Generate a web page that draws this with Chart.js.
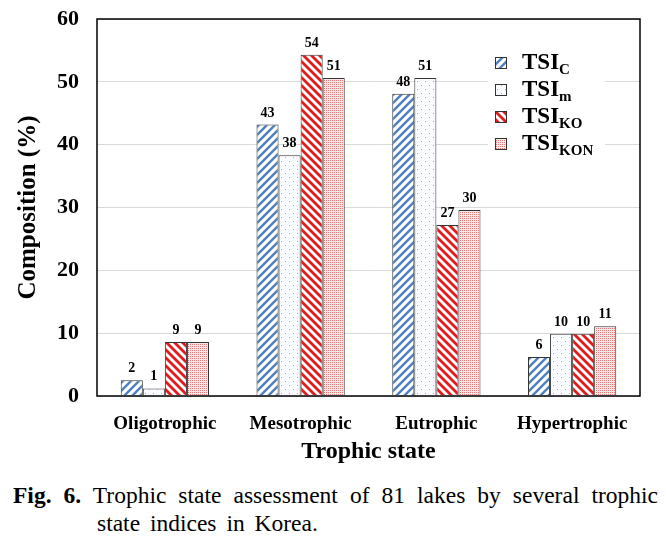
<!DOCTYPE html>
<html>
<head>
<meta charset="utf-8">
<script src="https://cdn.jsdelivr.net/npm/chart.js@4"></script>
<style>
  html, body { margin: 0; padding: 0; background: #fff; }
  #wrap { position: relative; width: 666px; height: 544px; overflow: hidden; }
  #chart { position: absolute; left: 0; top: 0; }
  .cap {
    position: absolute;
    font-family: "Liberation Serif", "Times New Roman", serif;
    font-size: 23.5px; line-height: 28px; color: #000; white-space: nowrap;
  }
  #cap1 { left: 13px; top: 481px; width: 645px; text-align: justify; text-align-last: justify; white-space: normal; }
  #cap2 { left: 97px; top: 509px; word-spacing: 4px; }
</style>
</head>
<body>
<div id="wrap">
  <canvas id="chart" width="666" height="470"></canvas>
  <div class="cap" id="cap1"><b>Fig. 6.</b> Trophic state assessment of 81 lakes by several trophic</div>
  <div class="cap" id="cap2">state indices in Korea.</div>
</div>
<script>
// ---- data ----
const categories = ["Oligotrophic", "Mesotrophic", "Eutrophic", "Hypertrophic"];
const seriesNames = ["TSI", "TSI", "TSI", "TSI"];
const seriesSubs = ["C", "m", "KO", "KON"];
const tsiC   = [2.5, 43.2, 48.1, 6.2];
const tsiM   = [1.2, 38.3, 50.6, 9.9];
const tsiKO  = [8.6, 54.3, 27.2, 9.9];
const tsiKON = [8.6, 50.6, 29.6, 11.1];
const labelsC   = ["2", "43", "48", "6"];
const labelsM   = ["1", "38", "51", "10"];
const labelsKO  = ["9", "54", "27", "10"];
const labelsKON = ["9", "51", "30", "11"];
const yTicks = [0, 10, 20, 30, 40, 50, 60];

const SERIF = '"Liberation Serif", "Times New Roman", serif';

// ---- fill patterns ----
function makeTile(w, h, draw) {
    const c = document.createElement("canvas");
    c.width = w; c.height = h;
    const g = c.getContext("2d");
    draw(g, w, h);
    return c;
}

function patternFor(ctx, kind) {
    let tile;
    if (kind === "blueStripe") {
        tile = makeTile(8, 8, (g, w, h) => {
            g.fillStyle = "#fff"; g.fillRect(0, 0, w, h);
            g.strokeStyle = "#4f81bd"; g.lineWidth = 2.4;
            g.beginPath();
            g.moveTo(-2, h + 2); g.lineTo(w + 2, -2);
            g.moveTo(-2, 2); g.lineTo(2, -2);
            g.moveTo(w - 2, h + 2); g.lineTo(w + 2, h - 2);
            g.stroke();
        });
    } else if (kind === "blueDots") {
        tile = makeTile(8, 8, (g, w, h) => {
            g.fillStyle = "#fbfcff"; g.fillRect(0, 0, w, h);
            g.fillStyle = "#8fb0da";
            g.fillRect(1, 1, 1, 1);
            g.fillRect(5, 5, 1, 1);
        });
    } else if (kind === "redStripe") {
        tile = makeTile(8, 8, (g, w, h) => {
            g.fillStyle = "#fff"; g.fillRect(0, 0, w, h);
            g.strokeStyle = "#e31a1c"; g.lineWidth = 2.8;
            g.beginPath();
            g.moveTo(-2, -2); g.lineTo(w + 2, h + 2);
            g.moveTo(w - 2, -2); g.lineTo(w + 2, 2);
            g.moveTo(-2, h - 2); g.lineTo(2, h + 2);
            g.stroke();
        });
    } else {
        tile = makeTile(2, 2, (g, w, h) => {
            g.fillStyle = "#fde6e6"; g.fillRect(0, 0, w, h);
            g.fillStyle = "#e67a7a";
            g.fillRect(0, 0, 1, 1);
        });
    }
    return ctx.createPattern(tile, "repeat");
}

const canvas = document.getElementById("chart");
const ctx = canvas.getContext("2d");
const fills = [
    patternFor(ctx, "blueStripe"),
    patternFor(ctx, "blueDots"),
    patternFor(ctx, "redStripe"),
    patternFor(ctx, "pinkDots")
];
const valueLabels = [labelsC, labelsM, labelsKO, labelsKON];

// ---- plugins ----
const framePlugin = {
    id: "frame",
    afterDatasetsDraw(chart) {
        const a = chart.chartArea;
        const g = chart.ctx;
        g.save();
        g.strokeStyle = "#000";
        g.lineWidth = 1.5;
        g.strokeRect(a.left, a.top, a.right - a.left, a.bottom - a.top);

        // value labels above bars
        g.fillStyle = "#000";
        g.font = "bold 14px " + SERIF;
        g.textAlign = "center";
        g.textBaseline = "alphabetic";
        chart.data.datasets.forEach((ds, i) => {
            const meta = chart.getDatasetMeta(i);
            meta.data.forEach((el, j) => {
                g.fillText(valueLabels[i][j], el.x, el.y - 8);
            });
        });
        g.restore();
    }
};

const legendPlugin = {
    id: "subLegend",
    afterDraw(chart) {
        const g = chart.ctx;
        g.save();
        g.fillStyle = "#fff";
        g.fillRect(488, 45, 117, 128);
        const ys = [63, 90, 117, 144];
        chart.data.datasets.forEach((ds, i) => {
            const y = ys[i];
            g.fillStyle = ds.backgroundColor;
            g.fillRect(495, y - 6, 12, 12);
            g.strokeStyle = "#333";
            g.lineWidth = 1;
            g.strokeRect(495.5, y - 5.5, 11, 11);

            g.fillStyle = "#000";
            g.textAlign = "left";
            g.textBaseline = "alphabetic";
            g.font = "bold 23px " + SERIF;
            g.fillText(seriesNames[i], 522, y + 6);
            const w = g.measureText(seriesNames[i]).width;
            g.font = "bold 15px " + SERIF;
            g.fillText(seriesSubs[i], 522 + w, y + 11);
        });
        g.restore();
    }
};

// ---- chart ----
new Chart(ctx, {
    type: "bar",
    data: {
        labels: categories,
        datasets: [
            { label: "TSIC", data: tsiC },
            { label: "TSIm", data: tsiM },
            { label: "TSIKO", data: tsiKO },
            { label: "TSIKON", data: tsiKON }
        ].map((d, i) => Object.assign(d, {
            backgroundColor: fills[i],
            borderColor: "#333",
            borderWidth: 1,
            barPercentage: 1,
            categoryPercentage: 0.65
        }))
    },
    options: {
        responsive: false,
        animation: false,
        devicePixelRatio: 1,
        layout: { padding: { top: 19, right: 26, left: 0, bottom: 0 } },
        plugins: {
            legend: { display: false },
            tooltip: { enabled: false }
        },
        scales: {
            x: {
                grid: { display: false },
                border: { display: false },
                ticks: {
                    color: "#000",
                    font: { family: SERIF, size: 19, weight: "bold" },
                    padding: 9,
                    maxRotation: 0
                },
                title: {
                    display: true,
                    text: "Trophic state",
                    color: "#000",
                    font: { family: SERIF, size: 24, weight: "bold" },
                    padding: { top: 0, bottom: 4 }
                },
                afterFit(scale) {
                    scale.height = 74;
                    scale.paddingLeft = 0;
                    scale.paddingRight = 0;
                }
            },
            y: {
                min: yTicks[0],
                max: yTicks[yTicks.length - 1],
                grid: { color: "#d9d9d9", drawTicks: false, lineWidth: 1 },
                border: { display: false },
                ticks: {
                    stepSize: yTicks[1] - yTicks[0],
                    color: "#000",
                    font: { family: SERIF, size: 22, weight: "bold" },
                    padding: 18
                },
                title: {
                    display: true,
                    text: "Composition (%)",
                    color: "#000",
                    font: { family: SERIF, size: 25, weight: "bold" },
                    padding: { top: 14, bottom: 0 }
                },
                afterFit(scale) {
                    scale.width = 97;
                    // tick padding is otherwise added above/below the plot
                    scale.paddingTop = 0;
                    scale.paddingBottom = 0;
                }
            }
        }
    },
    plugins: [framePlugin, legendPlugin]
});
</script>
</body>
</html>
